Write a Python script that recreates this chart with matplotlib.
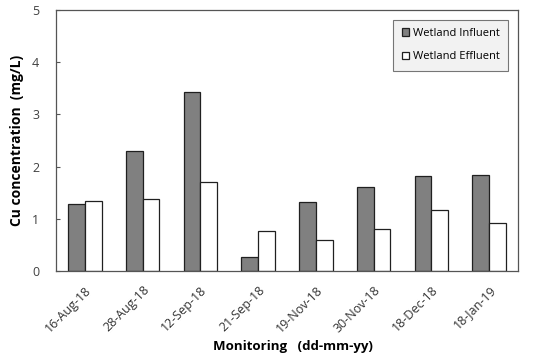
import matplotlib
matplotlib.use("Agg")
import matplotlib.pyplot as plt
import matplotlib.transforms as mtransforms
import numpy as np

dates = ["16-Aug-18", "28-Aug-18", "12-Sep-18", "21-Sep-18", "19-Nov-18", "30-Nov-18", "18-Dec-18", "18-Jan-19"]
influent = [1.29, 2.30, 3.43, 0.26, 1.33, 1.60, 1.82, 1.84]
effluent = [1.34, 1.38, 1.70, 0.76, 0.59, 0.81, 1.16, 0.92]

plt.rcParams['font.family'] = ['Open Sans', 'DejaVu Sans']

fig = plt.figure(figsize=(5.33, 3.56), dpi=100)
ax = fig.add_axes([56/533, 1-271/356, (518-56)/533, (271-10)/356])

x = np.arange(len(dates))
w = 0.29
ax.bar(x - w/2, influent, w, color="#808080", edgecolor="#202020", linewidth=0.9, label="Wetland Influent")
ax.bar(x + w/2, effluent, w, color="white", edgecolor="#202020", linewidth=0.9, label="Wetland Effluent")

ax.set_xlim(-0.5, len(dates) - 0.5)
ax.set_ylim(0, 5)
ax.set_yticks([0, 1, 2, 3, 4, 5])
ax.set_xticks(x)
ax.set_xticklabels(dates, rotation=45, ha="right", rotation_mode="anchor", fontsize=9, color="#333333")
offset = mtransforms.ScaledTranslation(4/100, 0, fig.dpi_scale_trans)
for lbl in ax.get_xticklabels():
    lbl.set_transform(lbl.get_transform() + offset)
ax.tick_params(axis="y", direction="in", length=3, width=0.8, color="#555555",
               labelsize=9, labelcolor="#404040", pad=12)
ax.tick_params(axis="x", length=0, pad=9)
for s in ax.spines.values():
    s.set_color("#555555")
    s.set_linewidth(0.9)

ax.set_ylabel("Cu concentration  (mg/L)", fontsize=10, fontweight="bold", labelpad=6)
ax.set_xlabel("Monitoring   (dd-mm-yy)", fontsize=9.5, fontweight="bold", va="center")
ax.xaxis.set_label_coords(0.512, -0.291)

leg = ax.legend(loc="upper right", bbox_to_anchor=(0.978, 0.962), fontsize=8, frameon=True,
                fancybox=False, handlelength=0.7, handleheight=0.7, handletextpad=0.3,
                labelspacing=1.1, borderpad=0.75, borderaxespad=0)
leg.get_frame().set_facecolor("#efefef")
leg.get_frame().set_edgecolor("#555555")
leg.get_frame().set_linewidth(0.8)

fig.savefig("out.png", dpi=100)
